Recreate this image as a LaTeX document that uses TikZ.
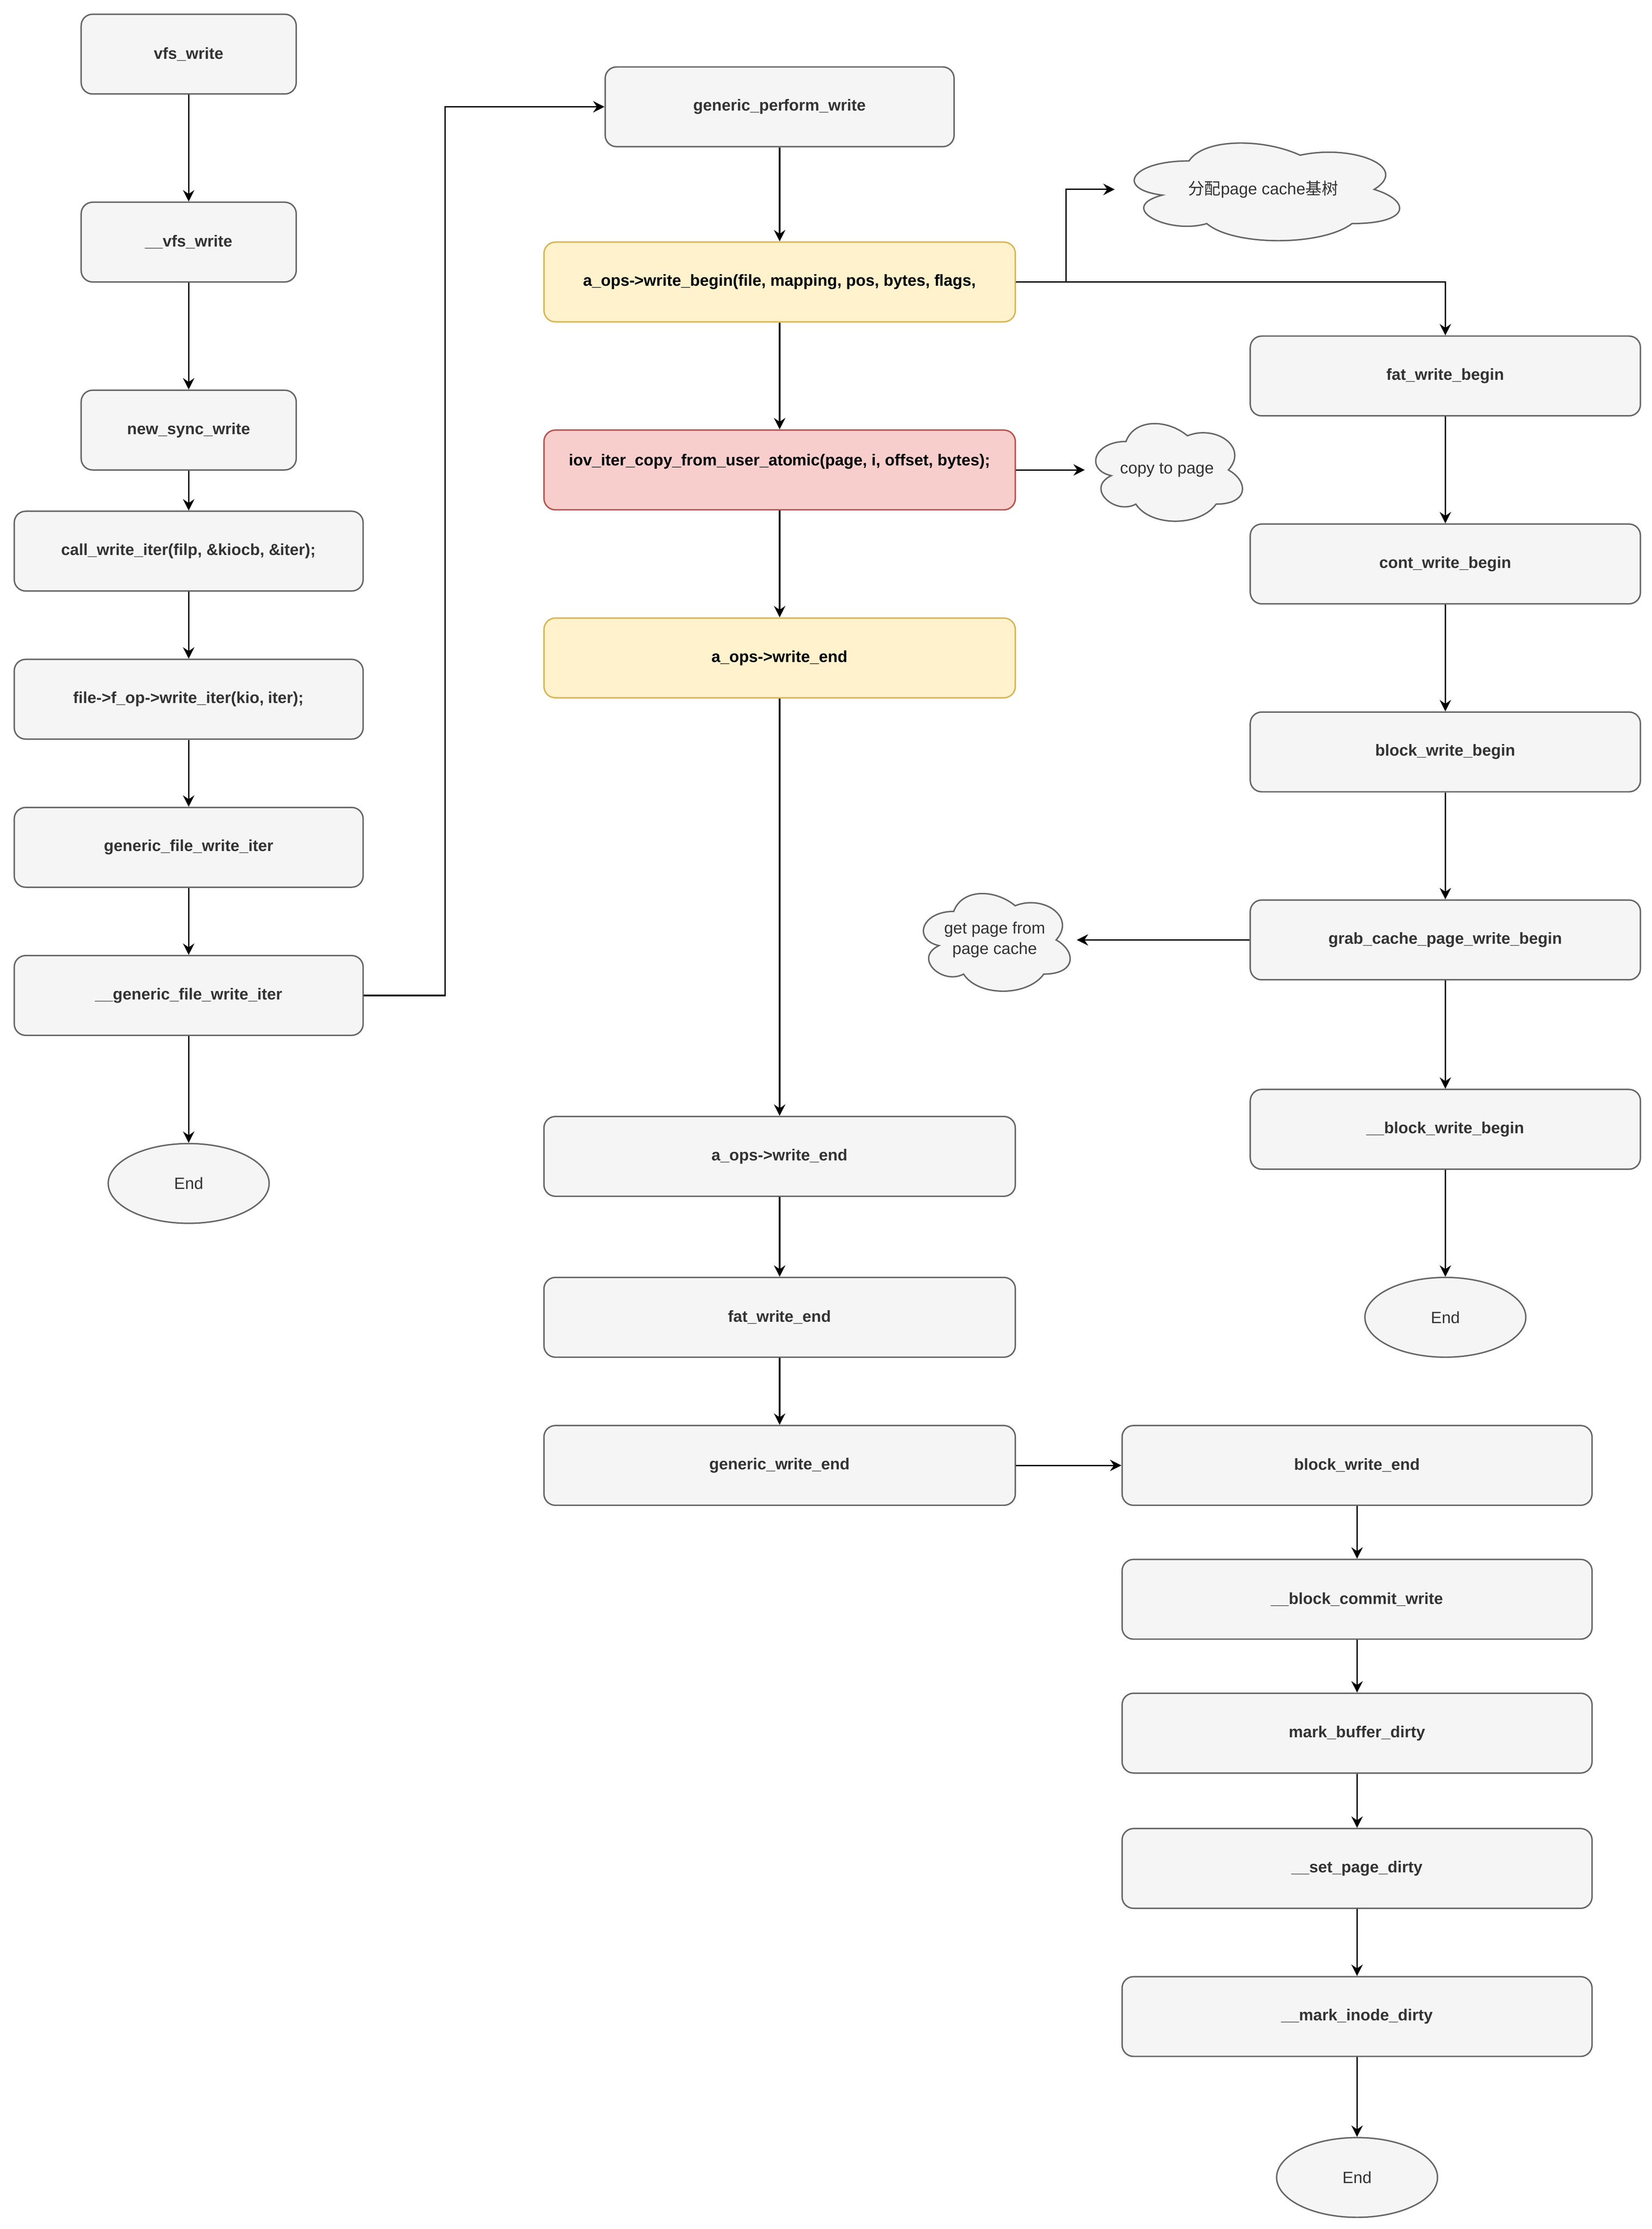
\documentclass[tikz,border=0pt]{standalone}
\usepackage{fontspec}
\setmainfont{Liberation Sans}
\newfontfamily\cjk{Noto Sans CJK SC}
\usetikzlibrary{arrows.meta,shapes.geometric}
\definecolor{bordergray}{HTML}{666666}
\definecolor{fillgray}{HTML}{F5F5F5}
\definecolor{textgray}{HTML}{333333}
\definecolor{yfill}{HTML}{FFF2CC}
\definecolor{ydraw}{HTML}{D6B656}
\definecolor{rfill}{HTML}{F8CECC}
\definecolor{rdraw}{HTML}{B85450}
\tikzset{
  box/.style={draw=bordergray, fill=fillgray, text=textgray, rounded corners=8pt,
    line width=1pt, minimum height=56pt, inner sep=0pt, align=center,
    font=\fontsize{11.25}{14.4}\selectfont\bfseries},
  narrowbox/.style={box, minimum width=151pt},
  leftbox/.style={box, minimum width=245pt},
  midbox/.style={box, minimum width=331pt},
  rightbox/.style={box, minimum width=274pt},
  lowbox/.style={box, minimum width=330pt},
  ybox/.style={midbox, draw=ydraw, fill=yfill, text=black},
  rbox/.style={midbox, draw=rdraw, fill=rfill, text=black},
  endsty/.style={ellipse, draw=bordergray, fill=fillgray, text=textgray, line width=1pt,
    minimum width=113pt, minimum height=56pt, inner sep=0pt,
    font=\fontsize{11.5}{14.4}\selectfont},
  cloudsty/.style={draw=bordergray, fill=fillgray, line width=1pt},
  cloudtext/.style={text=textgray, inner sep=0pt, align=center,
    font=\fontsize{11.5}{14.4}\selectfont},
  arr/.style={-{Stealth[length=8pt,width=8pt,inset=2.7pt]}, line width=1pt, draw=black},
}
\newcommand{\mycloud}[4]{%
  \draw[cloudsty, shift={(#1pt,-#2pt)}, x=#3pt, y=-#4pt]
    (0.25,0.25) .. controls (0.05,0.25) and (0,0.5) .. (0.16,0.55)
    .. controls (0,0.66) and (0.18,0.9) .. (0.31,0.8)
    .. controls (0.4,1) and (0.7,1) .. (0.8,0.8)
    .. controls (1,0.8) and (1,0.6) .. (0.875,0.5)
    .. controls (1,0.3) and (0.8,0.1) .. (0.625,0.2)
    .. controls (0.5,0.05) and (0.3,0.05) .. (0.25,0.25) -- cycle;}
\begin{document}
\begin{tikzpicture}[x=1pt, y=-1pt]
\useasboundingbox[fill=white] (0,0) rectangle (1160,1565.2);

% left column
\node[narrowbox] (vfs) at (132.5,38) {vfs\_write};
\node[narrowbox] (uvfs) at (132.5,170) {\_\_vfs\_write};
\node[narrowbox] (nsw) at (132.5,302) {new\_sync\_write};
\node[leftbox] (cwi) at (132.5,387) {call\_write\_iter(filp, \&kiocb, \&iter);};
\node[leftbox] (fop) at (132.5,491) {file->f\_op->write\_iter(kio, iter);};
\node[leftbox] (gfwi) at (132.5,595) {generic\_file\_write\_iter};
\node[leftbox] (ugfwi) at (132.5,699) {\_\_generic\_file\_write\_iter};
\node[endsty] (end1) at (132.5,831) {End};

% middle column
\node[leftbox] (gpw) at (547.5,75) {generic\_perform\_write};
\node[ybox] (wb) at (547.5,198) {a\_ops->write\_begin(file, mapping, pos, bytes, flags,};
\node[rbox] (iov) at (547.5,330) {iov\_iter\_copy\_from\_user\_atomic(page, i, offset, bytes);\\\mbox{}};
\node[ybox] (we1) at (547.5,462) {a\_ops->write\_end};
\node[midbox] (we2) at (547.5,812) {a\_ops->write\_end};
\node[midbox] (fwe) at (547.5,925) {fat\_write\_end};
\node[midbox] (gwe) at (547.5,1029) {generic\_write\_end};

% right column
\node[rightbox] (fwb) at (1015,264) {fat\_write\_begin};
\node[rightbox] (cwb) at (1015,396) {cont\_write\_begin};
\node[rightbox] (bwb) at (1015,528) {block\_write\_begin};
\node[rightbox] (grab) at (1015,660) {grab\_cache\_page\_write\_begin};
\node[rightbox] (ubwb) at (1015,793) {\_\_block\_write\_begin};
\node[endsty] (end2) at (1015,925) {End};

% lower right column
\node[lowbox] (bwe) at (953,1029) {block\_write\_end};
\node[lowbox] (ubcw) at (953,1123) {\_\_block\_commit\_write};
\node[lowbox] (mbd) at (953,1217) {mark\_buffer\_dirty};
\node[lowbox] (spd) at (953,1312) {\_\_set\_page\_dirty};
\node[lowbox] (mid) at (953,1416) {\_\_mark\_inode\_dirty};
\node[endsty] (end3) at (953,1529) {End};

% clouds
\mycloud{783}{93}{208}{80}
\mycloud{762}{290}{115}{80}
\mycloud{641}{620}{115}{80}
\node[cloudtext, minimum width=208pt, minimum height=80pt] (c1) at (887,133) {{\cjk 分配}page cache{\cjk 基树}};
\node[cloudtext, minimum width=115pt, minimum height=80pt] (c2) at (819.5,330) {copy to page};
\node[cloudtext, minimum width=115pt, minimum height=80pt] (c3) at (698.5,660) {get page from\\page cache};

% connectors left
\draw[arr] (vfs.south) -- (uvfs.north);
\draw[arr] (uvfs.south) -- (nsw.north);
\draw[arr] (nsw.south) -- (cwi.north);
\draw[arr] (cwi.south) -- (fop.north);
\draw[arr] (fop.south) -- (gfwi.north);
\draw[arr] (gfwi.south) -- (ugfwi.north);
\draw[arr] (ugfwi.south) -- (end1.north);
\draw[arr] (ugfwi.east) -- ++(57,0) |- (gpw.west);

% connectors middle
\draw[arr] (gpw.south) -- (wb.north);
\draw[arr] (wb.south) -- (iov.north);
\draw[arr] (iov.south) -- (we1.north);
\draw[arr] (we1.south) -- (we2.north);
\draw[arr] (we2.south) -- (fwe.north);
\draw[arr] (fwe.south) -- (gwe.north);
\draw[arr] (gwe.east) -- (bwe.west);
\draw[arr] (wb.east) -- ++(35,0) |- (c1.west);
\draw[arr] (wb.east) -| (fwb.north);
\draw[arr] (iov.east) -- (c2.west);

% connectors right
\draw[arr] (fwb.south) -- (cwb.north);
\draw[arr] (cwb.south) -- (bwb.north);
\draw[arr] (bwb.south) -- (grab.north);
\draw[arr] (grab.south) -- (ubwb.north);
\draw[arr] (ubwb.south) -- (end2.north);
\draw[arr] (grab.west) -- (c3.east);

% connectors lower right
\draw[arr] (bwe.south) -- (ubcw.north);
\draw[arr] (ubcw.south) -- (mbd.north);
\draw[arr] (mbd.south) -- (spd.north);
\draw[arr] (spd.south) -- (mid.north);
\draw[arr] (mid.south) -- (end3.north);
\end{tikzpicture}
\end{document}
